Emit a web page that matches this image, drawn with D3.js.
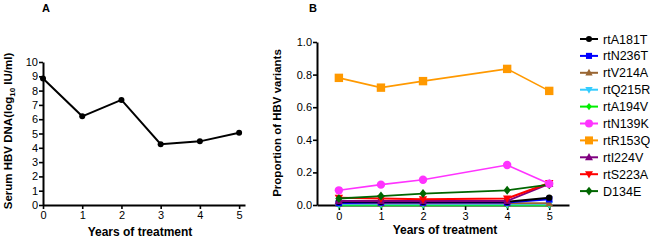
<!DOCTYPE html>
<html><head><meta charset="utf-8">
<script src="https://cdn.jsdelivr.net/npm/d3@7"></script>
<style>
body{margin:0;background:#fff;}
svg{display:block;font-family:"Liberation Sans",Arial,sans-serif;}
.tick text{font-size:11px;fill:#000;}
</style></head><body>
<svg id="c" width="650" height="241"></svg>
<script>
// Panel A data
const yearsA = [0, 1, 2, 3, 4, 5];
const viralLoad = [8.85, 6.2, 7.35, 4.25, 4.45, 5.05];
const ticksA_y = [0,1,2,3,4,5,6,7,8,9,10];
const ticksX = [0,1,2,3,4,5];

// Panel B data (no measurement at year 3)
const yearsB = [0, 1, 2, 3, 4, 5];
const seriesNames = ["rtA181T","rtN236T","rtV214A","rtQ215R","rtA194V","rtN139K","rtR153Q","rtI224V","rtS223A","D134E"];
const rtA181T = [0.02, 0.02, 0.02, null, 0.02, 0.045];
const rtN236T = [0.012, 0.015, 0.015, null, 0.015, 0.035];
const rtV214A = [0.01, 0.01, 0.01, null, 0.01, 0.01];
const rtQ215R = [0.005, 0.005, 0.005, null, 0.005, 0.005];
const rtA194V = [0.0, 0.0, 0.0, null, 0.0, 0.0];
const rtN139K = [0.09, 0.125, 0.155, null, 0.245, 0.13];
const rtR153Q = [0.78, 0.72, 0.76, null, 0.835, 0.70];
const rtI224V = [0.025, 0.025, 0.025, null, 0.025, 0.13];
const rtS223A = [0.045, 0.04, 0.035, null, 0.04, 0.135];
const D134E = [0.04, 0.055, 0.07, null, 0.09, 0.125];
const ticksB_y = [0, 0.2, 0.4, 0.6, 0.8, 1.0];

const seriesVals = [rtA181T,rtN236T,rtV214A,rtQ215R,rtA194V,rtN139K,rtR153Q,rtI224V,rtS223A,D134E];
const colors = ["#000000","#0000ff","#996633","#33ccff","#00ee00","#ff33ff","#ff9900","#800080","#ff0000","#006600"];
const shapes = ["circle","square","triUp","triDown","diamond","circle","square","triUp","triDown","diamond"];
const sizes = [3.2,3.2,3.5,3.5,3,4.2,4.2,3.8,3.8,3.6];
const lineW = [2,2,2,2,2.5,1.6,1.6,2,2,1.8];

const svg = d3.select("#c");

function marker(g, shape, x, y, r, color){
  if(shape==="circle") g.append("circle").attr("cx",x).attr("cy",y).attr("r",r).attr("fill",color);
  else if(shape==="square") g.append("rect").attr("x",x-r).attr("y",y-r).attr("width",2*r).attr("height",2*r).attr("fill",color);
  else {
    let pts;
    if(shape==="triUp") pts=[[x,y-r*1.2],[x+r*1.1,y+r*0.8],[x-r*1.1,y+r*0.8]];
    else if(shape==="triDown") pts=[[x,y+r*1.2],[x+r*1.1,y-r*0.8],[x-r*1.1,y-r*0.8]];
    else pts=[[x,y-r*1.25],[x+r,y],[x,y+r*1.25],[x-r,y]];
    g.append("polygon").attr("points",pts.map(p=>p.join(",")).join(" ")).attr("fill",color);
  }
}

function styleAxis(g){
  g.selectAll(".domain").attr("stroke","#000").attr("stroke-width",2);
  g.selectAll(".tick line").attr("stroke","#000").attr("stroke-width",1.6);
}

// ---------- Panel A ----------
const xA = d3.scaleLinear().domain([0,5.15]).range([43,245]);
const yA = d3.scaleLinear().domain([0,10]).range([205,62]);
const gA = svg.append("g");
const axXA = gA.append("g").attr("transform","translate(0,205)")
  .call(d3.axisBottom(xA).tickValues(ticksX).tickFormat(d3.format("d")).tickSize(4).tickSizeOuter(0).tickPadding(2));
const axYA = gA.append("g").attr("transform","translate(43,0)")
  .call(d3.axisLeft(yA).tickValues(ticksA_y).tickFormat(d3.format("d")).tickSize(4).tickSizeOuter(0).tickPadding(1));
styleAxis(axXA); styleAxis(axYA);
gA.append("path").datum(yearsA.map((d,i)=>[d,viralLoad[i]]))
  .attr("d",d3.line().x(d=>xA(d[0])).y(d=>yA(d[1])))
  .attr("fill","none").attr("stroke","#000").attr("stroke-width",2);
yearsA.forEach((d,i)=>marker(gA,"circle",xA(d),yA(viralLoad[i]),3,"#000"));
gA.append("text").attr("x",140).attr("y",236).attr("text-anchor","middle")
  .attr("font-size",12).attr("font-weight","bold").text("Years of treatment");
const tA = gA.append("text").attr("transform","translate(12,131) rotate(-90)").attr("text-anchor","middle")
  .attr("font-size",11.5).attr("font-weight","bold");
tA.append("tspan").text("Serum HBV DNA(log");
tA.append("tspan").attr("font-size",8).attr("dy",3).text("10");
tA.append("tspan").attr("dy",-3).text(" IU/ml)");
svg.append("text").attr("x",42).attr("y",12).attr("font-size",11).attr("font-weight","bold").text("A");

// ---------- Panel B ----------
const xB = d3.scaleLinear().domain([-0.52,5.47]).range([317,569]);
const yB = d3.scaleLinear().domain([0,1]).range([205,42]);
const gB = svg.append("g");
const axXB = gB.append("g").attr("transform","translate(0,205)")
  .call(d3.axisBottom(xB).tickValues(ticksX).tickFormat(d3.format("d")).tickSize(5).tickSizeOuter(0).tickPadding(2));
const axYB = gB.append("g").attr("transform","translate(317,0)")
  .call(d3.axisLeft(yB).tickValues(ticksB_y).tickFormat(d3.format(".1f")).tickSize(4).tickSizeOuter(0).tickPadding(1));
styleAxis(axXB); styleAxis(axYB);

const order = [4,3,2,1,0,7,8,9,5,6];
order.forEach(si=>{
  const pts = yearsB.map((d,i)=>[d,seriesVals[si][i]]).filter(p=>p[1]!==null);
  gB.append("path").datum(pts)
    .attr("d",d3.line().x(d=>xB(d[0])).y(d=>yB(d[1])))
    .attr("fill","none").attr("stroke",colors[si]).attr("stroke-width",lineW[si]);
  pts.forEach(p=>marker(gB,shapes[si],xB(p[0]),yB(p[1]),sizes[si],colors[si]));
});
gB.append("text").attr("x",445).attr("y",234).attr("text-anchor","middle")
  .attr("font-size",12).attr("font-weight","bold").text("Years of treatment");
gB.append("text").attr("transform","translate(281,123) rotate(-90)").attr("text-anchor","middle")
  .attr("font-size",11.5).attr("font-weight","bold").text("Proportion of HBV variants");
svg.append("text").attr("x",309).attr("y",12).attr("font-size",11).attr("font-weight","bold").text("B");

// Legend
const lg = svg.append("g");
seriesNames.forEach((n,i)=>{
  const y = 39 + i*16.9;
  lg.append("line").attr("x1",580).attr("x2",598).attr("y1",y).attr("y2",y)
    .attr("stroke",colors[i]).attr("stroke-width",2);
  marker(lg,shapes[i],589,y,sizes[i]*0.95,colors[i]);
  lg.append("text").attr("x",603).attr("y",y+4.5).attr("font-size",12.5).text(n);
});
</script></body></html>
